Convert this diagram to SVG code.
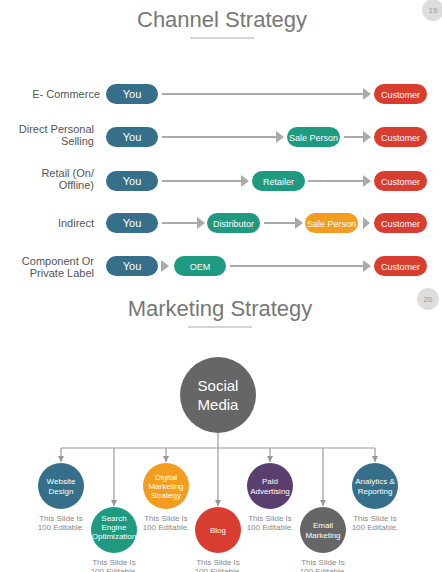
<svg xmlns="http://www.w3.org/2000/svg" width="442" height="572" viewBox="0 0 442 572">
<defs>
<marker id="ah" markerWidth="8" markerHeight="12" refX="0" refY="6" orient="auto" markerUnits="userSpaceOnUse"><path d="M0,0 L8,6 L0,12 Z" fill="#aaa"/></marker>
<marker id="sa" markerWidth="6" markerHeight="6" refX="6" refY="3" orient="auto" markerUnits="userSpaceOnUse"><path d="M0,0 L6,3 L0,6 Z" fill="#999"/></marker>
</defs>
<style>
text{font-family:"Liberation Sans",Arial,sans-serif}
.title{font-size:22px;fill:#777;text-anchor:middle}
.lbl{font-size:11px;fill:#555;text-anchor:end}
.pt{fill:#fff;text-anchor:middle;font-size:9px}
.you{fill:#356f8a}.teal{fill:#1e9a80}.org{fill:#f39c1f}.red{fill:#d93d30}
.con{stroke:#aaa;stroke-width:2;fill:none}
.tree{stroke:#999;stroke-width:1.2;fill:none}
.ct{fill:#fff;text-anchor:middle;font-size:8px}
.cap{fill:#888;text-anchor:middle;font-size:8px}
.pg{fill:#ddd}
.pgt{fill:#999;font-size:8px;text-anchor:middle}
</style>
<rect width="442" height="572" fill="#fff"/>
<text class="title" x="222" y="27">Channel Strategy</text>
<rect x="190" y="37" width="64" height="2" fill="#d5d5d5"/>
<circle class="pg" cx="433" cy="10" r="11"/><text class="pgt" x="433" y="13">19</text>

<g id="connectors">
<line class="con" x1="162" y1="94" x2="363" y2="94" marker-end="url(#ah)"/>
<line class="con" x1="162" y1="137" x2="276" y2="137" marker-end="url(#ah)"/>
<line class="con" x1="344" y1="137" x2="363" y2="137" marker-end="url(#ah)"/>
<line class="con" x1="162" y1="181" x2="241" y2="181" marker-end="url(#ah)"/>
<line class="con" x1="308" y1="181" x2="363" y2="181" marker-end="url(#ah)"/>
<line class="con" x1="162" y1="223" x2="197" y2="223" marker-end="url(#ah)"/>
<line class="con" x1="264" y1="223" x2="295" y2="223" marker-end="url(#ah)"/>
<path d="M363,217 L370,223 L363,229 Z" fill="#aaa"/>
<path d="M161,260 L169,266 L161,272 Z" fill="#aaa"/>
<line class="con" x1="230" y1="266" x2="363" y2="266" marker-end="url(#ah)"/>
</g>

<g id="row1">
<text class="lbl" x="100" y="98">E- Commerce</text>
<rect class="you" x="106" y="84" width="52" height="20" rx="10"/><text class="pt" x="132" y="98" style="font-size:11px">You</text>
<rect class="red" x="374" y="84" width="53" height="20" rx="10"/><text class="pt" x="400.5" y="97.5">Customer</text>
</g>
<g id="row2">
<text class="lbl" x="94" y="133">Direct Personal</text><text class="lbl" x="94" y="145">Selling</text>
<rect class="you" x="106" y="127" width="52" height="20" rx="10"/><text class="pt" x="132" y="141" style="font-size:11px">You</text>
<rect class="teal" x="287" y="127" width="53" height="20" rx="10"/><text class="pt" x="313.5" y="140.5">Sale Person</text>
<rect class="red" x="374" y="127" width="53" height="20" rx="10"/><text class="pt" x="400.5" y="140.5">Customer</text>
</g>
<g id="row3">
<text class="lbl" x="94" y="177">Retail (On/</text><text class="lbl" x="94" y="189">Offline)</text>
<rect class="you" x="106" y="171" width="52" height="20" rx="10"/><text class="pt" x="132" y="185" style="font-size:11px">You</text>
<rect class="teal" x="252" y="171" width="53" height="20" rx="10"/><text class="pt" x="278.5" y="184.5">Retailer</text>
<rect class="red" x="374" y="171" width="53" height="20" rx="10"/><text class="pt" x="400.5" y="184.5">Customer</text>
</g>
<g id="row4">
<text class="lbl" x="94" y="227">Indirect</text>
<rect class="you" x="106" y="213" width="52" height="20" rx="10"/><text class="pt" x="132" y="227" style="font-size:11px">You</text>
<rect class="teal" x="207" y="213" width="53" height="20" rx="10"/><text class="pt" x="233.5" y="226.5">Distributor</text>
<rect class="org" x="305" y="213" width="53" height="20" rx="10"/><text class="pt" x="331.5" y="226.5">Sale Person</text>
<rect class="red" x="374" y="213" width="53" height="20" rx="10"/><text class="pt" x="400.5" y="226.5">Customer</text>
</g>
<g id="row5">
<text class="lbl" x="94" y="265">Component Or</text><text class="lbl" x="94" y="277">Private Label</text>
<rect class="you" x="106" y="256" width="52" height="20" rx="10"/><text class="pt" x="132" y="270" style="font-size:11px">You</text>
<rect class="teal" x="174" y="256" width="52" height="20" rx="10"/><text class="pt" x="200" y="269.5">OEM</text>
<rect class="red" x="374" y="256" width="53" height="20" rx="10"/><text class="pt" x="400.5" y="269.5">Customer</text>
</g>

<text class="title" x="220" y="316">Marketing Strategy</text>
<rect x="188" y="326" width="64" height="2" fill="#d5d5d5"/>
<circle class="pg" cx="428" cy="299" r="11"/><text class="pgt" x="428" y="302">20</text>

<g id="tree-connectors">
<line class="tree" x1="218" y1="433" x2="218" y2="448"/>
<line class="tree" x1="61" y1="448" x2="375" y2="448"/>
<line class="tree" x1="61" y1="448" x2="61" y2="462" marker-end="url(#sa)"/>
<line class="tree" x1="114" y1="448" x2="114" y2="506" marker-end="url(#sa)"/>
<line class="tree" x1="166" y1="448" x2="166" y2="462" marker-end="url(#sa)"/>
<line class="tree" x1="218" y1="448" x2="218" y2="506" marker-end="url(#sa)"/>
<line class="tree" x1="270" y1="448" x2="270" y2="462" marker-end="url(#sa)"/>
<line class="tree" x1="323" y1="448" x2="323" y2="506" marker-end="url(#sa)"/>
<line class="tree" x1="375" y1="448" x2="375" y2="462" marker-end="url(#sa)"/>
</g>

<g id="social">
<circle cx="218" cy="395" r="38" fill="#666"/>
<text x="218" y="391" fill="#fff" font-size="15" text-anchor="middle">Social</text>
<text x="218" y="410" fill="#fff" font-size="15" text-anchor="middle">Media</text>
</g>
<g id="website">
<circle cx="61" cy="486" r="23" fill="#356f8a"/>
<text class="ct" x="61" y="484">Website</text><text class="ct" x="61" y="494">Design</text>
<text class="cap" x="61" y="521">This Slide Is</text><text class="cap" x="61" y="530">100 Editable.</text>
</g>
<g id="seo">
<circle cx="114" cy="530" r="23" fill="#1e9a80"/>
<text class="ct" x="114" y="521">Search</text><text class="ct" x="114" y="530">Engine</text><text class="ct" x="114" y="539">Optimization</text>
<text class="cap" x="114" y="565">This Slide Is</text><text class="cap" x="114" y="574">100 Editable.</text>
</g>
<g id="digital">
<circle cx="166" cy="486" r="23" fill="#f39c1f"/>
<text class="ct" x="166" y="480">Digital</text><text class="ct" x="166" y="489">Marketing</text><text class="ct" x="166" y="498">Strategy</text>
<text class="cap" x="166" y="521">This Slide Is</text><text class="cap" x="166" y="530">100 Editable.</text>
</g>
<g id="blog">
<circle cx="218" cy="530" r="23" fill="#d93d30"/>
<text class="ct" x="218" y="533">Blog</text>
<text class="cap" x="218" y="565">This Slide Is</text><text class="cap" x="218" y="574">100 Editable.</text>
</g>
<g id="paid">
<circle cx="270" cy="486" r="23" fill="#5a3f6e"/>
<text class="ct" x="270" y="484">Paid</text><text class="ct" x="270" y="494">Advertising</text>
<text class="cap" x="270" y="521">This Slide Is</text><text class="cap" x="270" y="530">100 Editable.</text>
</g>
<g id="email">
<circle cx="323" cy="530" r="23" fill="#666"/>
<text class="ct" x="323" y="528">Email</text><text class="ct" x="323" y="538">Marketing</text>
<text class="cap" x="323" y="565">This Slide Is</text><text class="cap" x="323" y="574">100 Editable.</text>
</g>
<g id="analytics">
<circle cx="375" cy="486" r="23" fill="#356f8a"/>
<text class="ct" x="375" y="484">Analytics &amp;</text><text class="ct" x="375" y="494">Reporting</text>
<text class="cap" x="375" y="521">This Slide Is</text><text class="cap" x="375" y="530">100 Editable.</text>
</g>
</svg>
